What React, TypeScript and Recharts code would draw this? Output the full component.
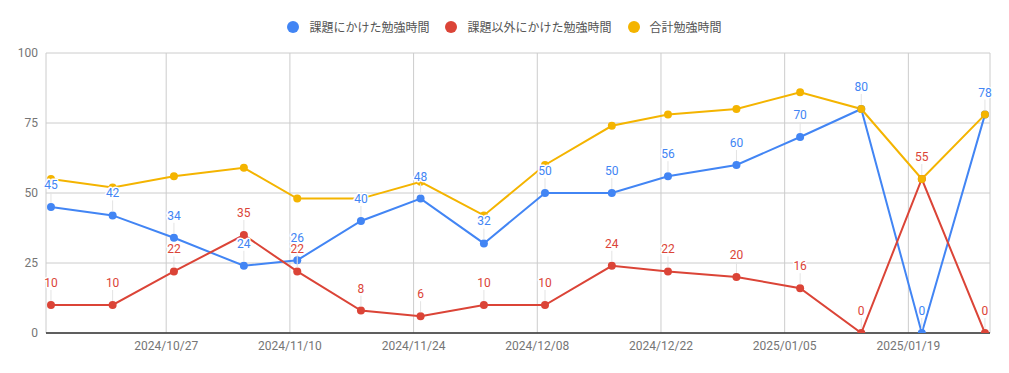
import { CartesianGrid, LabelList, Legend, Line, LineChart, ReferenceLine, XAxis, YAxis } from "recharts";

// 記録日時（グラフ上の点の位置から読み取り）
const recordedAt = [
    "2024-10-13T23:00", "2024-10-20T22:30", "2024-10-27T21:00", "2024-11-04T19:00",
    "2024-11-10T20:00", "2024-11-18T01:00", "2024-11-24T19:00", "2024-12-01T23:00",
    "2024-12-08T21:00", "2024-12-16T10:30", "2024-12-22T19:00", "2024-12-30T13:00",
    "2025-01-06T18:00", "2025-01-13T16:00", "2025-01-20T12:30", "2025-01-27T16:00",
];
const taskHours = [45, 42, 34, 24, 26, 40, 48, 32, 50, 50, 56, 60, 70, 80, 0, 78];
const otherHours = [10, 10, 22, 35, 22, 8, 6, 10, 10, 24, 22, 20, 16, 0, 55, 0];
const totalHours = [55, 52, 56, 59, 48, 48, 54, 42, 60, 74, 78, 80, 86, 80, 55, 78];

const xTickDates = ["2024-10-27", "2024-11-10", "2024-11-24", "2024-12-08", "2024-12-22", "2025-01-05", "2025-01-19"];
const yTicks = [0, 25, 50, 75, 100];
const xRange = ["2024-10-13T09:30", "2025-01-28T05:45"];

const series = [
    { key: "task", name: "課題にかけた勉強時間", color: "#4285F4" },
    { key: "other", name: "課題以外にかけた勉強時間", color: "#DB4437" },
    { key: "total", name: "合計勉強時間", color: "#F4B400" },
];

const toTime = (s: string) => Date.parse((s.length === 10 ? s + "T00:00" : s) + "Z");

const data = recordedAt.map((d, i) => ({
    time: toTime(d),
    task: taskHours[i],
    other: otherHours[i],
    total: totalHours[i],
}));

const pad = (n: number) => (n < 10 ? "0" + n : "" + n);
function formatDate(v: number) {
    const d = new Date(v);
    return `${d.getUTCFullYear()}/${pad(d.getUTCMonth() + 1)}/${pad(d.getUTCDate())}`;
}

const FONT = "Roboto, 'Noto Sans CJK JP', sans-serif";

const makeAnnotation = (color: string) => (props: any) => {
    const x = props.x ?? props.viewBox?.x;
    const y = props.y ?? props.viewBox?.y;
    if (x == null || y == null) return null;
    return (
        <g>
            <line x1={x} x2={x} y1={y - 15} y2={y - 4} stroke="#e3e3e3" strokeWidth={1} />
            <text
                x={x}
                y={y - 18}
                textAnchor="middle"
                fontSize={12}
                fontFamily={FONT}
                fill={color}
                stroke="#fff"
                strokeWidth={3}
                strokeLinejoin="round"
                paintOrder="stroke"
            >
                {props.value}
            </text>
        </g>
    );
};

const renderLegend = () => (
    <div style={{ height: 53, display: "flex", justifyContent: "center", alignItems: "center", gap: 16, fontFamily: FONT, fontSize: 12, color: "#555" }}>
        {series.map((s) => (
            <div key={s.key} style={{ display: "flex", alignItems: "center" }}>
                <span style={{ width: 12, height: 12, borderRadius: 6, background: s.color, marginRight: 10, display: "inline-block" }} />
                <span>{s.name}</span>
            </div>
        ))}
    </div>
);

const App = () => {
    return <div style={{ position: "absolute", left: 0, top: 0 }}>
        <LineChart width={1009} height={373} data={data} margin={{ top: 0, right: 19, bottom: 10, left: 0 }}>
            <Legend verticalAlign="top" content={renderLegend} wrapperStyle={{ left: 0, width: 1009 }} />
            <CartesianGrid stroke="#cccccc" />
            <XAxis
                dataKey="time"
                type="number"
                scale="linear"
                domain={[toTime(xRange[0]), toTime(xRange[1])]}
                allowDataOverflow
                ticks={xTickDates.map(toTime)}
                tickFormatter={formatDate}
                tickLine={false}
                axisLine={{ stroke: "#333333" }}
                tick={{ fill: "#757575", fontSize: 12, fontFamily: FONT }}
            />
            <YAxis
                width={46}
                domain={[0, 100]}
                allowDataOverflow
                ticks={yTicks}
                tickLine={false}
                axisLine={false}
                tick={{ fill: "#757575", fontSize: 12, fontFamily: FONT }}
            />
            {series.map((s) => (
                <Line key={s.key} type="linear" dataKey={s.key} name={s.name} stroke={s.color} strokeWidth={2}
                    dot={{ r: 4, fill: s.color, stroke: "none", clipDot: true }} activeDot={false} isAnimationActive={false} />
            ))}
            <ReferenceLine y={0} stroke="#333333" strokeWidth={1} />
            {series.slice(0, 2).map((s) => (
                <Line key={s.key + "-label"} dataKey={s.key} stroke="none" dot={false} activeDot={false}
                    legendType="none" isAnimationActive={false}>
                    <LabelList dataKey={s.key} content={makeAnnotation(s.color)} />
                </Line>
            ))}
        </LineChart>
    </div>
}

export default App;
